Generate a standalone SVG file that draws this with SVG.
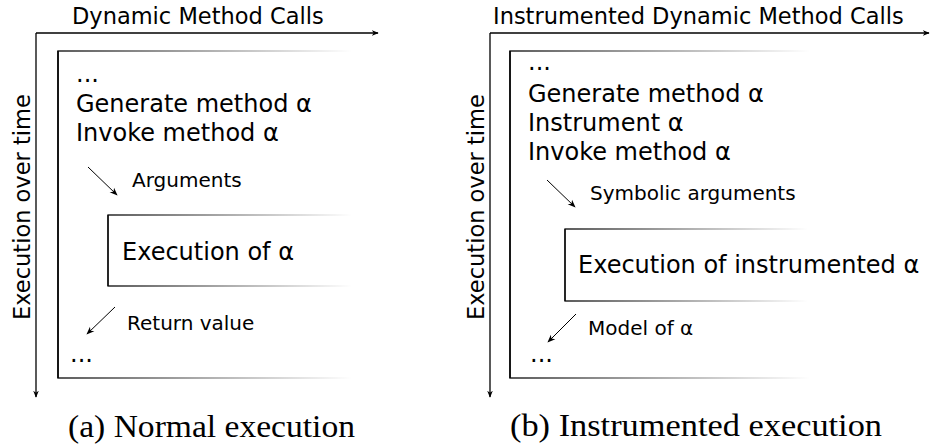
<svg xmlns="http://www.w3.org/2000/svg" width="930" height="445" viewBox="0 0 930 445">
<defs>
<marker id="ah" viewBox="0 0 10 10" refX="9" refY="5" markerWidth="7" markerHeight="7" orient="auto" markerUnits="userSpaceOnUse">
<path d="M0,1 L10,5 L0,9 L3,5 Z" fill="#000"/>
</marker>
<marker id="ahs" viewBox="0 0 10 10" refX="9" refY="5" markerWidth="8" markerHeight="8" orient="auto" markerUnits="userSpaceOnUse">
<path d="M0,1 L10,5 L0,9 L3,5 Z" fill="#000"/>
</marker>
<linearGradient id="fadeL" gradientUnits="userSpaceOnUse" x1="58" y1="0" x2="352" y2="0">
<stop offset="0" stop-color="#000" stop-opacity="0.85"/>
<stop offset="1" stop-color="#000" stop-opacity="0"/>
</linearGradient>
<linearGradient id="fadeLi" gradientUnits="userSpaceOnUse" x1="108" y1="0" x2="352" y2="0">
<stop offset="0" stop-color="#000" stop-opacity="0.85"/>
<stop offset="1" stop-color="#000" stop-opacity="0"/>
</linearGradient>
<linearGradient id="fadeR" gradientUnits="userSpaceOnUse" x1="510" y1="0" x2="810" y2="0">
<stop offset="0" stop-color="#000" stop-opacity="0.85"/>
<stop offset="1" stop-color="#000" stop-opacity="0"/>
</linearGradient>
<linearGradient id="fadeRi" gradientUnits="userSpaceOnUse" x1="565" y1="0" x2="808" y2="0">
<stop offset="0" stop-color="#000" stop-opacity="0.85"/>
<stop offset="1" stop-color="#000" stop-opacity="0"/>
</linearGradient>
</defs>
<style>
.t{font-family:"DejaVu Sans",sans-serif;fill:#000}
.title{font-size:22.5px}
.body{font-size:24px}
.lbl{font-size:20px}
.cap{font-family:"Liberation Serif","DejaVu Serif",serif;font-size:32px;fill:#000}
.ax{stroke:#000;stroke-width:1.3;fill:none}
.sm{stroke:#000;stroke-width:1;fill:none}
</style>
<rect width="930" height="445" fill="#fff"/>

<g id="panel-a">
<text class="t title" x="72" y="24">Dynamic Method Calls</text>
<text class="t title" transform="translate(30,320) rotate(-90)">Execution over time</text>
<g id="outer-a">
<path d="M352,51 H58 V378 H352" fill="none" stroke="url(#fadeL)" stroke-width="1.5"/>
<line x1="58" y1="51" x2="58" y2="378" stroke="#000" stroke-width="1.5"/>
<text class="t body" x="76" y="82">...</text>
<text class="t body" x="76" y="112">Generate method α</text>
<text class="t body" x="76" y="141">Invoke method α</text>
<text class="t lbl" x="132" y="187">Arguments</text>
<text class="t lbl" x="127" y="330">Return value</text>
<text class="t body" x="70" y="362">...</text>
</g>
<g id="inner-a">
<path d="M352,215 H108 V286 H352" fill="none" stroke="url(#fadeLi)" stroke-width="1.3"/>
<line x1="108" y1="215" x2="108" y2="286" stroke="#000" stroke-width="1.3"/>
<text class="t body" x="122" y="260">Execution of α</text>
</g>
<text class="cap" x="68" y="437" textLength="287" lengthAdjust="spacingAndGlyphs">(a) Normal execution</text>
</g>

<g id="panel-b">
<text class="t title" x="493" y="24">Instrumented Dynamic Method Calls</text>
<text class="t title" transform="translate(484,320) rotate(-90)">Execution over time</text>
<g id="outer-b">
<path d="M810,51 H510 V378 H810" fill="none" stroke="url(#fadeR)" stroke-width="1.5"/>
<line x1="510" y1="51" x2="510" y2="378" stroke="#000" stroke-width="1.5"/>
<text class="t body" x="528" y="70">...</text>
<text class="t body" x="528" y="102">Generate method α</text>
<text class="t body" x="528" y="131">Instrument α</text>
<text class="t body" x="528" y="160">Invoke method α</text>
<text class="t lbl" x="590" y="200">Symbolic arguments</text>
<text class="t lbl" x="588" y="335">Model of α</text>
<text class="t body" x="530" y="362">...</text>
</g>
<g id="inner-b">
<path d="M808,229 H565 V301 H808" fill="none" stroke="url(#fadeRi)" stroke-width="1.3"/>
<line x1="565" y1="229" x2="565" y2="301" stroke="#000" stroke-width="1.3"/>
<text class="t body" x="578" y="273">Execution of instrumented α</text>
</g>
<text class="cap" x="510" y="436" textLength="372" lengthAdjust="spacingAndGlyphs">(b) Instrumented execution</text>
</g>

<g id="connectors">
<line class="ax" x1="36" y1="33" x2="378" y2="33" marker-end="url(#ah)"/>
<line class="ax" x1="36" y1="33" x2="36" y2="397" marker-end="url(#ah)"/>
<line class="ax" x1="490" y1="33" x2="929" y2="33" marker-end="url(#ah)"/>
<line class="ax" x1="490" y1="33" x2="490" y2="397" marker-end="url(#ah)"/>
<line class="sm" x1="88" y1="167" x2="117" y2="195" marker-end="url(#ahs)"/>
<line class="sm" x1="115" y1="307" x2="87" y2="334" marker-end="url(#ahs)"/>
<line class="sm" x1="547" y1="180" x2="575" y2="207" marker-end="url(#ahs)"/>
<line class="sm" x1="576" y1="314" x2="548" y2="342" marker-end="url(#ahs)"/>
</g>
</svg>
